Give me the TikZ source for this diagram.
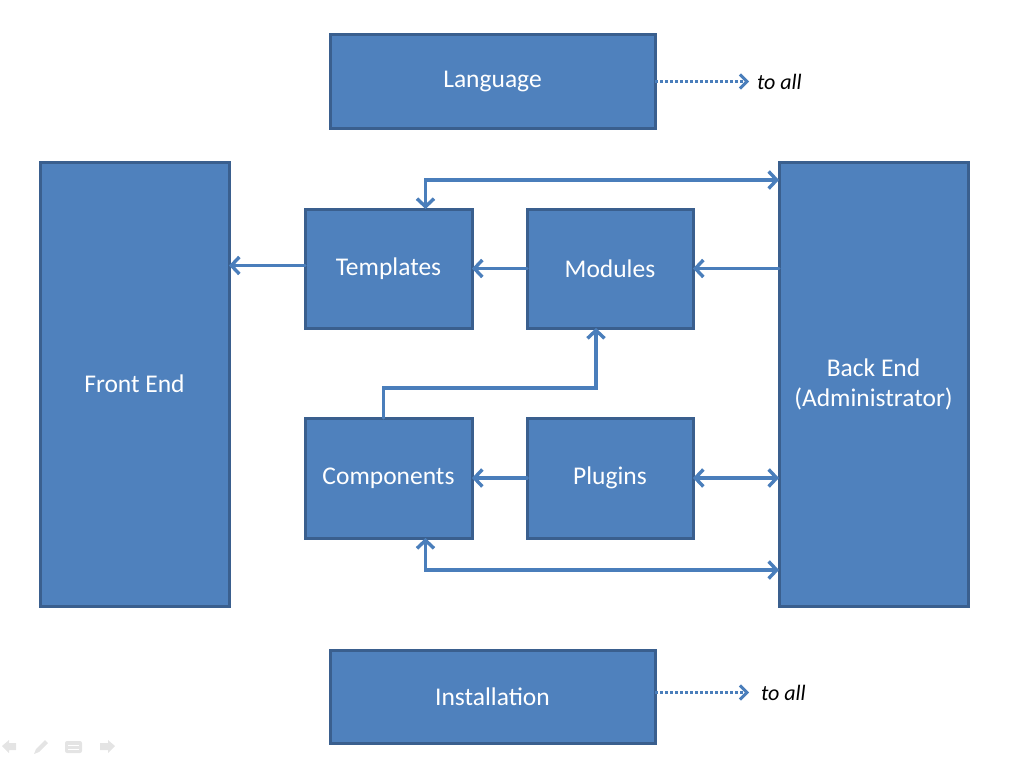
\documentclass[tikz,border=0pt]{standalone}
\usepackage{fontspec}
\setmainfont{Carlito}
\usetikzlibrary{arrows.meta}

\begin{document}
\begin{tikzpicture}[x=1pt, y=-1pt, inner sep=0pt, outer sep=0pt,
  blk/.style={draw=boxedge, fill=boxfill, line width=3pt, text=white, align=center,
    font=\fontsize{25.5}{30}\selectfont},
  conn/.style={draw=linecol, line width=3.4pt, line cap=round,
    -{Straight Barb[length=8pt,width=17pt,line width=3.4pt]}},
  bothconn/.style={conn, {Straight Barb[length=8pt,width=17pt,line width=3.4pt]}-{Straight Barb[length=8pt,width=17pt,line width=3.4pt]}},
  dotconn/.style={draw=linecol, line width=3pt, dash pattern=on 3pt off 2pt,
    -{Straight Barb[length=7pt,width=14pt,line width=3pt]}},
  note/.style={anchor=west, font=\fontsize{22}{26}\selectfont\itshape}]
\definecolor{boxfill}{HTML}{4F81BD}
\definecolor{boxedge}{HTML}{3A5F8E}
\definecolor{linecol}{HTML}{4A7EBB}
\definecolor{navgray}{HTML}{E4E4E4}
\useasboundingbox (0,0) rectangle (1012,768);

\node[blk, minimum width=325, minimum height=93] (lang) at (492.5,81.5) {Language};
\node[blk, minimum width=325, minimum height=93] (inst) at (492.5,696.5) {Installation};
\node[blk, minimum width=189, minimum height=444] (front) at (134.5,384) {Front End};
\node[blk, minimum width=189, minimum height=444] (back) at (873.5,384) {Back End\\(Administrator)};
\node[blk, minimum width=167, minimum height=119] (tmpl) at (388.5,268.5) {Templates};
\node[blk, minimum width=166, minimum height=119] (mod) at (610,268.5) {Modules};
\node[blk, minimum width=167, minimum height=120] (comp) at (388.5,478) {Components};
\node[blk, minimum width=166, minimum height=120] (plug) at (610,478) {Plugins};

% "to all" notes
\draw[dotconn] (lang.east) -- ++(94,0) coordinate (langend);
\node[note] (langnote) at ([xshift=8pt]langend) {to all};
\draw[dotconn] ([yshift=4pt]inst.east) -- ++(94,0) coordinate (instend);
\node[note] (instnote) at ([xshift=12pt]instend) {to all};

\draw[conn] ([yshift=3pt]tmpl.west) -- ([yshift=3pt]tmpl.west -| front.east);
\draw[conn] (mod.west) -- (tmpl.east);
\draw[conn] (mod.east -| back.west) -- (mod.east);
\draw[bothconn] ([xshift=37pt]tmpl.north) |- ([yshift=-18pt]back.north west);
\draw[conn] ([xshift=-5pt]comp.north) -- ++(0,-30) -| ([xshift=-14pt]mod.south);
\draw[conn] (plug.west) -- (comp.east);
\draw[bothconn] (plug.east) -- (plug.east -| back.west);
\draw[bothconn] ([xshift=37pt]comp.south) |- ([yshift=36pt]back.south west);

% slide controls
\fill[navgray] (2,746) -- (9,740) -- (9,743) -- (16,743) -- (16,750) -- (9,750) -- (9,753) -- cycle;
\fill[navgray] (34,754) -- (36,749) -- (45,740) -- (48,743) -- (39,752) -- cycle;
\fill[navgray, rounded corners=2pt] (65,741) rectangle (82,753);
\draw[white, line width=1pt] (68,745) -- (79,745) (68,749) -- (79,749);
\fill[navgray] (115,746) -- (108,740) -- (108,743) -- (100,743) -- (100,750) -- (108,750) -- (108,753) -- cycle;
\end{tikzpicture}
\end{document}
